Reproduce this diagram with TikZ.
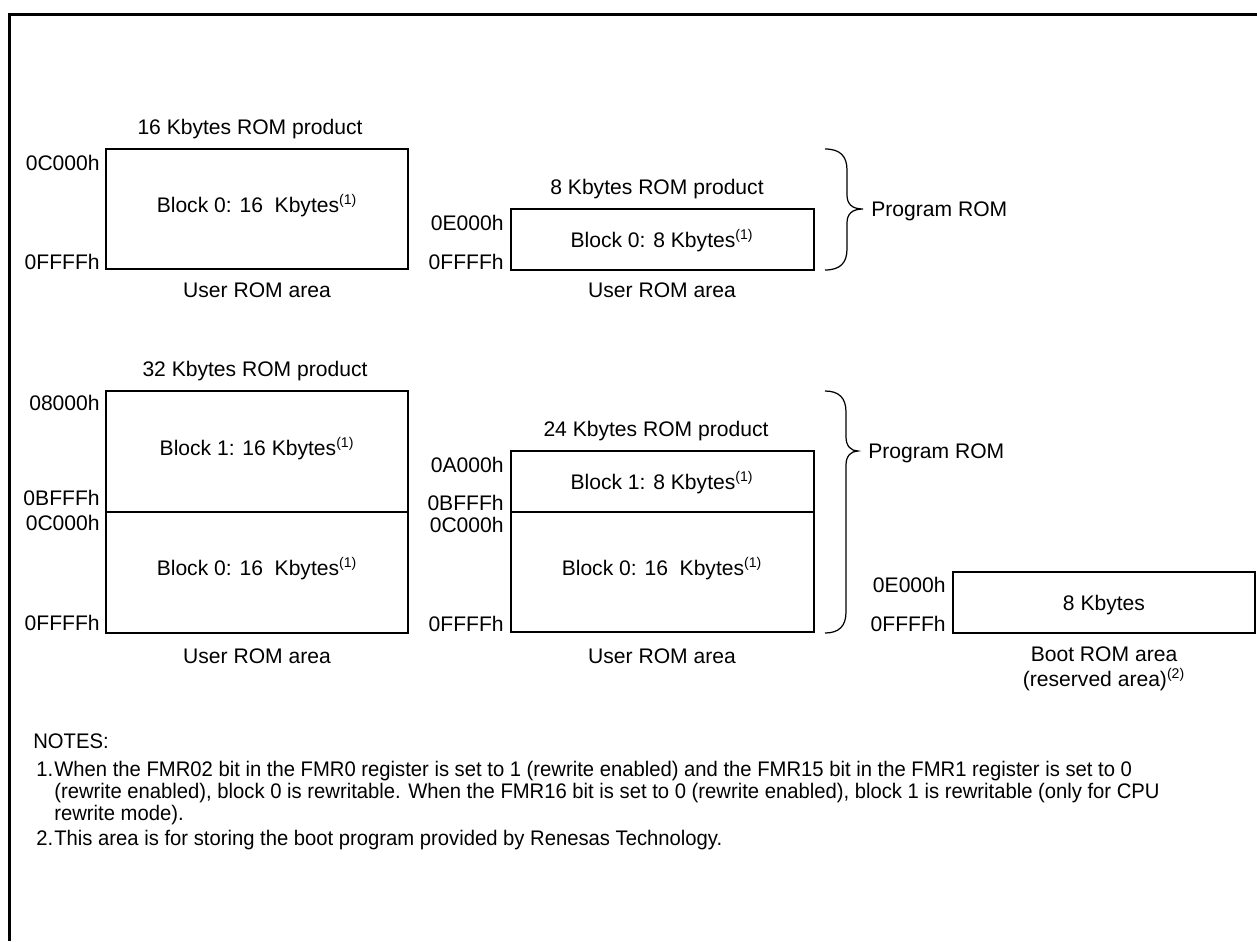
\documentclass[tikz,border=0pt]{standalone}
\usepackage{fontspec}
\setmainfont{Liberation Sans}
\newfontfamily\notefont{Liberation Sans}[FakeStretch=0.96]
\usepackage{tikz}

\begin{document}
\begin{tikzpicture}[x=0.02cm,y=-0.02cm,
  every node/.style={font=\fontsize{12}{14}\selectfont,inner sep=0pt,text height=8.6pt,text depth=0pt},
  addr/.style={anchor=east},
  note/.style={anchor=west,font=\notefont\fontsize{12}{14}\selectfont},
  box/.style={line width=0.7pt},
  brc/.style={line width=0.7pt}]
\useasboundingbox (0,0) rectangle (1257,941);
% frame
\draw[line width=1.7pt] (1257,14.5) -- (9.5,14.5) -- (9.5,941);

% 16 Kbytes ROM product
\draw[box] (106,149) rectangle (408,269);
\node (t16) at (250,127) {16 Kbytes ROM product};
\node (b16) at (257,205) {Block 0: 16~~Kbytes\textsuperscript{(1)}};
\node[addr] (a16a) at (100,163) {0C000h};
\node[addr] (a16b) at (100,262) {0FFFFh};
\node (u16) at (257,290) {User ROM area};

% 8 Kbytes ROM product
\draw[box] (511,209) rectangle (814,270);
\node (t8) at (657,187) {8 Kbytes ROM product};
\node (b8) at (662,240) {Block 0: 8 Kbytes\textsuperscript{(1)}};
\node[addr] (a8a) at (504,223) {0E000h};
\node[addr] (a8b) at (504,262) {0FFFFh};
\node (u8) at (662,290) {User ROM area};

% brace, top row
\draw[brc] (825,149) .. controls (840,149) and (847,156) .. (847,170) -- (847,195)
  .. controls (847,204) and (852,209) .. (863,209)
  .. controls (852,209) and (847,214) .. (847,223) -- (847,249)
  .. controls (847,263) and (840,270) .. (825,270);
\node[anchor=west] (p1) at (871,209) {Program ROM};

% 32 Kbytes ROM product
\draw[box] (106,391) rectangle (408,633);
\draw[box] (106,512) -- (408,512);
\node (t32) at (255,369) {32 Kbytes ROM product};
\node (b32a) at (257,448) {Block 1: 16 Kbytes\textsuperscript{(1)}};
\node (b32b) at (257,568) {Block 0: 16~~Kbytes\textsuperscript{(1)}};
\node[addr] (a32a) at (100,403) {08000h};
\node[addr] (a32b) at (100,498) {0BFFFh};
\node[addr] (a32c) at (100,523) {0C000h};
\node[addr] (a32d) at (100,623) {0FFFFh};
\node (u32) at (257,656) {User ROM area};

% 24 Kbytes ROM product
\draw[box] (511,451) rectangle (814,632);
\draw[box] (511,512) -- (814,512);
\node (t24) at (656,429) {24 Kbytes ROM product};
\node (b24a) at (662,482) {Block 1: 8 Kbytes\textsuperscript{(1)}};
\node (b24b) at (662,568) {Block 0: 16~~Kbytes\textsuperscript{(1)}};
\node[addr] (a24a) at (504,465) {0A000h};
\node[addr] (a24b) at (504,503) {0BFFFh};
\node[addr] (a24c) at (504,525) {0C000h};
\node[addr] (a24d) at (504,624) {0FFFFh};
\node (u24) at (662,656) {User ROM area};

% brace, bottom row
\draw[brc] (825,391) .. controls (839,391) and (846,398) .. (846,412) -- (846,437)
  .. controls (846,446) and (851,451) .. (858,451)
  .. controls (851,451) and (846,456) .. (846,465) -- (846,612)
  .. controls (846,626) and (839,633) .. (825,633);
\node[anchor=west] (p2) at (868,451) {Program ROM};

% boot ROM
\draw[box] (953,572) rectangle (1255,633);
\node (bt) at (1104,603) {8 Kbytes};
\node[addr] (bta) at (946,585) {0E000h};
\node[addr] (btb) at (946,624) {0FFFFh};
\node (ub1) at (1104,654) {Boot ROM area};
\node (ub2) at (1104,679) {(reserved area)\textsuperscript{(2)}};

% notes
\node[note] (nh) at (33,741) {NOTES:};
\node[note] (n1) at (36,769) {1.};
\node[note] (n1a) at (54,769) {When the FMR02 bit in the FMR0 register is set to 1 (rewrite enabled) and the FMR15 bit in the FMR1 register is set to 0};
\node[note] (n1b) at (54,791) {(rewrite enabled), block 0 is rewritable. When the FMR16 bit is set to 0 (rewrite enabled), block 1 is rewritable (only for CPU};
\node[note] (n1c) at (54,813) {rewrite mode).};
\node[note] (n2) at (36,838) {2.};
\node[note] (n2a) at (54,838) {This area is for storing the boot program provided by Renesas Technology.};
\end{tikzpicture}
\end{document}
